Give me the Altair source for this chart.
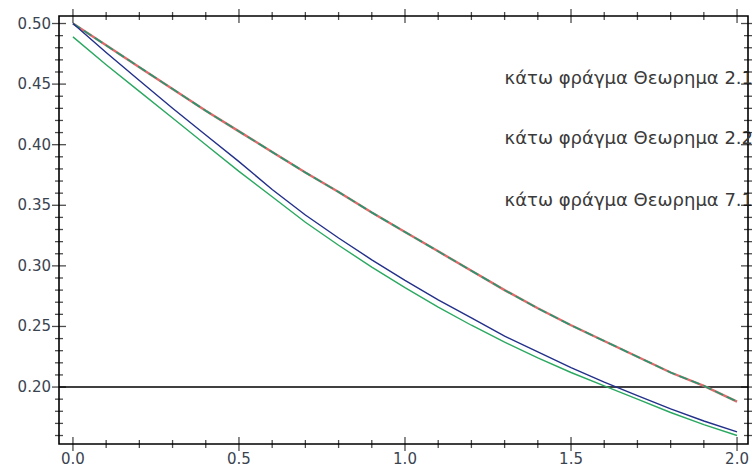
import altair as alt
import pandas as pd

# ---- data ----
x_vals = [0.0, 0.1, 0.2, 0.3, 0.4, 0.5, 0.6, 0.7, 0.8, 0.9, 1.0,
          1.1, 1.2, 1.3, 1.4, 1.5, 1.6, 1.7, 1.8, 1.9, 2.0]
red_vals = [0.500, 0.482, 0.464, 0.446, 0.428, 0.411, 0.394, 0.377, 0.361, 0.344, 0.328,
            0.312, 0.296, 0.280, 0.265, 0.251, 0.238, 0.225, 0.212, 0.201, 0.188]
dashed_vals = [0.500, 0.482, 0.464, 0.446, 0.428, 0.411, 0.394, 0.377, 0.361, 0.344, 0.328,
               0.312, 0.296, 0.280, 0.265, 0.251, 0.238, 0.225, 0.212, 0.201, 0.188]
blue_vals = [0.500, 0.476, 0.453, 0.430, 0.408, 0.386, 0.363, 0.342, 0.323, 0.305, 0.288,
             0.272, 0.257, 0.242, 0.229, 0.216, 0.204, 0.193, 0.182, 0.172, 0.163]
green_vals = [0.489, 0.466, 0.444, 0.422, 0.400, 0.378, 0.357, 0.336, 0.317, 0.299, 0.282,
              0.266, 0.251, 0.237, 0.224, 0.212, 0.201, 0.190, 0.179, 0.169, 0.160]
hline_value = [0.20]

label_texts = ["κάτω φράγμα Θεωρημα 2.1", "κάτω φράγμα Θεωρημα 2.2", "κάτω φράγμα Θεωρημα 7.1"]
label_x = [1.30, 1.30, 1.30]
label_y = [0.454, 0.405, 0.3535]

x_major = [0.0, 0.5, 1.0, 1.5, 2.0]
x_tick_labels = ["0.0", "0.5", "1.0", "1.5", "2.0"]
x_minor = [0.1, 0.2, 0.3, 0.4, 0.6, 0.7, 0.8, 0.9, 1.1, 1.2, 1.3, 1.4, 1.6, 1.7, 1.8, 1.9]
y_major = [0.20, 0.25, 0.30, 0.35, 0.40, 0.45, 0.50]
y_tick_labels = ["0.20", "0.25", "0.30", "0.35", "0.40", "0.45", "0.50"]
y_minor = [0.16, 0.17, 0.18, 0.19, 0.21, 0.22, 0.23, 0.24, 0.26, 0.27, 0.28, 0.29,
           0.31, 0.32, 0.33, 0.34, 0.36, 0.37, 0.38, 0.39, 0.41, 0.42, 0.43, 0.44,
           0.46, 0.47, 0.48, 0.49]

W, H = 689, 428
MAJOR, MINOR = 7, 4

# ---- tables ----
rows = []
for name, vals in [("red", red_vals), ("dashed", dashed_vals), ("blue", blue_vals), ("green", green_vals)]:
    for xv, yv in zip(x_vals, vals):
        rows.append({"x": xv, "y": yv, "series": name})
df = pd.DataFrame(rows)
df_h = pd.DataFrame({"y": hline_value})
df_lab = pd.DataFrame({"x": label_x, "y": label_y, "text": label_texts})
df_xl = pd.DataFrame({"x": x_major, "t": x_tick_labels})
df_yl = pd.DataFrame({"y": y_major, "t": y_tick_labels})
df_xt = pd.DataFrame({"x": x_major + x_minor,
                      "len": [MAJOR] * len(x_major) + [MINOR] * len(x_minor)})
df_yt = pd.DataFrame({"y": y_major + y_minor,
                      "len": [MAJOR] * len(y_major) + [MINOR] * len(y_minor)})

xs = alt.Scale(domain=[-0.042, 2.033], nice=False, zero=False)
ys = alt.Scale(domain=[0.153, 0.5062], nice=False, zero=False)

FONT = "DejaVu Sans"
LABEL_COLOR = "#3a4450"
TICK_W = 1.3

base = alt.Chart(df)

tick_layers = []
for xpos_top in (False, True):
    tick_layers.append(
        alt.Chart(df_xt).mark_tick(color="black", thickness=TICK_W, orient="vertical").encode(
            x=alt.X("x:Q", scale=xs, axis=None),
            y=alt.value(0 if xpos_top else H),
            size=alt.Size("len:Q", scale=alt.Scale(domain=[0, 10], range=[0, 20]), legend=None),
        )
    )
for ypos_right in (False, True):
    tick_layers.append(
        alt.Chart(df_yt).mark_tick(color="black", thickness=TICK_W, orient="horizontal").encode(
            y=alt.Y("y:Q", scale=ys, axis=None),
            x=alt.value(W if ypos_right else 0),
            size=alt.Size("len:Q", scale=alt.Scale(domain=[0, 10], range=[0, 20]), legend=None),
        )
    )

# tick labels as text
xlab = alt.Chart(df_xl).mark_text(
    font=FONT, fontSize=15, color=LABEL_COLOR, align="center", baseline="middle"
).encode(x=alt.X("x:Q", scale=xs, axis=None), y=alt.value(H + 15), text="t:N")
ylab = alt.Chart(df_yl).mark_text(
    font=FONT, fontSize=15, color=LABEL_COLOR, align="right", baseline="middle"
).encode(y=alt.Y("y:Q", scale=ys, axis=None), x=alt.value(-8), text="t:N")


def line_layer(name, color, width, dash=None):
    kw = dict(color=color, strokeWidth=width)
    if dash:
        kw["strokeDash"] = dash
    return base.transform_filter(alt.datum.series == name).mark_line(**kw).encode(
        x=alt.X("x:Q", scale=xs, axis=None),
        y=alt.Y("y:Q", scale=ys, axis=None),
    )


red = line_layer("red", "#e06a6a", 2.4)
dashed = line_layer("dashed", "#1f9a72", 1.6, [9, 4])
blue = line_layer("blue", "#22308a", 1.4)
green = line_layer("green", "#2aa860", 1.4)

hline = alt.Chart(df_h).mark_rule(color="black", strokeWidth=1.5).encode(
    y=alt.Y("y:Q", scale=ys, axis=None)
)

labels = alt.Chart(df_lab).mark_text(
    font=FONT, fontSize=18, color="#3a3a3a", align="left", baseline="middle"
).encode(
    x=alt.X("x:Q", scale=xs, axis=None),
    y=alt.Y("y:Q", scale=ys, axis=None),
    text="text:N",
)

chart = alt.layer(
    xlab, ylab, hline, red, dashed, green, blue, labels, *tick_layers
).properties(
    width=W, height=H,
    padding={"left": 59, "top": 16, "right": 4, "bottom": 29},
    autosize=alt.AutoSizeParams(type="none"),
    background="white",
).configure_view(
    stroke="black", strokeWidth=1.6
)

chart.save("out.html", embed_options={"renderer": "svg", "actions": False})
